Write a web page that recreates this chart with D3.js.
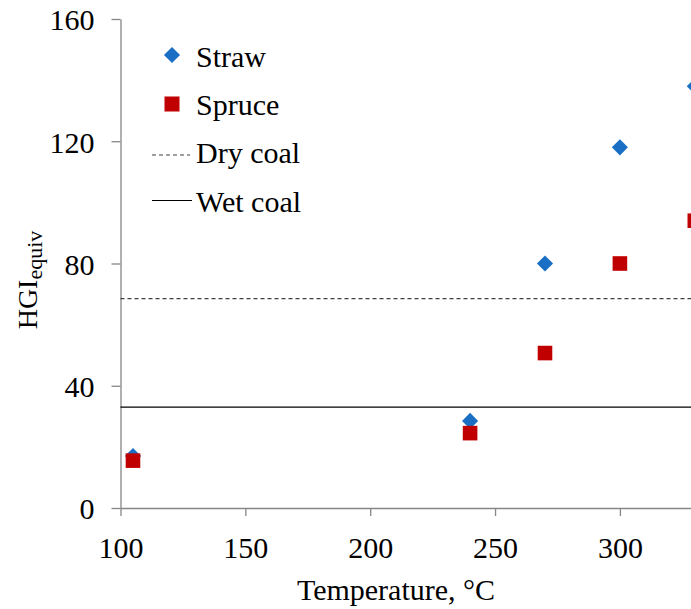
<!DOCTYPE html>
<html>
<head>
<meta charset="utf-8">
<script src="https://cdn.jsdelivr.net/npm/d3@7"></script>
<style>
  html, body { margin: 0; padding: 0; background: #fff; }
  svg { display: block; }
  text { font-family: "Liberation Serif", "Times New Roman", serif; fill: #000; }
</style>
</head>
<body>
<svg id="chart" width="691" height="609"></svg>
<script>
// Torrefaction temperature vs. equivalent Hardgrove grindability index
const temperatures = [105, 240, 270, 300, 330];
const strawHGI = [17, 28.5, 80, 118, 138];
const spruceHGI = [15.5, 24.5, 50.7, 80, 94];
const dryCoalHGI = 68.5;
const wetCoalHGI = 33;
const xTicks = [100, 150, 200, 250, 300];
const yTicks = [0, 40, 80, 120, 160];

const svg = d3.select("#chart");
const plotLeft = 120.5, plotTop = 19, plotBottom = 508;

const x = d3.scaleLinear().domain([100, 350]).range([plotLeft, plotLeft + 250 * 2.497]);
const y = d3.scaleLinear().domain([0, 160]).range([plotBottom, plotTop]);

const axisColor = "#868686";
const fontSize = 30;

// Axes
const xAxis = svg.append("g").attr("transform", `translate(0,${plotBottom})`)
  .call(d3.axisBottom(x).tickValues(xTicks).tickSize(8).tickPadding(21).tickSizeOuter(0));
xAxis.select(".domain").attr("stroke", axisColor).attr("stroke-width", 1.3);
xAxis.selectAll(".tick line").attr("stroke", axisColor).attr("stroke-width", 1.3);
xAxis.selectAll(".tick text").attr("font-size", fontSize).attr("font-family", "Liberation Serif").attr("fill", "#000");

const yAxis = svg.append("g").attr("transform", `translate(${plotLeft},0)`)
  .call(d3.axisLeft(y).tickValues(yTicks).tickSize(9).tickPadding(17).tickSizeOuter(0));
yAxis.select(".domain").attr("stroke", axisColor).attr("stroke-width", 1.3);
yAxis.selectAll(".tick line").attr("stroke", axisColor).attr("stroke-width", 1.3);
yAxis.selectAll(".tick text").attr("font-size", fontSize).attr("font-family", "Liberation Serif")
  .attr("fill", "#000").attr("dy", "0.36em");

// Coal reference lines
svg.append("line")
  .attr("x1", x(100)).attr("x2", x(350))
  .attr("y1", y(dryCoalHGI)).attr("y2", y(dryCoalHGI))
  .attr("stroke", "#404040").attr("stroke-width", 1.2).attr("stroke-dasharray", "4,3");
svg.append("line")
  .attr("x1", x(100)).attr("x2", x(350))
  .attr("y1", y(wetCoalHGI)).attr("y2", y(wetCoalHGI))
  .attr("stroke", "#000").attr("stroke-width", 1.2);

const blue = "#1a6fc4", red = "#c00000";
const diamond = d3.symbol().type(d3.symbolSquare).size(130);

// Straw points (diamonds)
svg.append("g").selectAll("path")
  .data(temperatures.map((t, i) => [t, strawHGI[i]]))
  .join("path")
  .attr("d", diamond)
  .attr("transform", d => `translate(${x(d[0])},${y(d[1])}) rotate(45)`)
  .attr("fill", blue);

// Spruce points (squares)
svg.append("g").selectAll("rect")
  .data(temperatures.map((t, i) => [t, spruceHGI[i]]))
  .join("rect")
  .attr("x", d => x(d[0]) - 7.3).attr("y", d => y(d[1]) - 7.3)
  .attr("width", 14.6).attr("height", 14.6)
  .attr("fill", red);

// Legend
const lg = svg.append("g");
lg.append("path").attr("d", diamond).attr("transform", "translate(172,55) rotate(45)").attr("fill", blue);
lg.append("rect").attr("x", 164.5).attr("y", 96.5).attr("width", 15).attr("height", 15).attr("fill", red);
lg.append("line").attr("x1", 152).attr("x2", 190).attr("y1", 155).attr("y2", 155)
  .attr("stroke", "#404040").attr("stroke-width", 1.2).attr("stroke-dasharray", "4,3");
lg.append("line").attr("x1", 152).attr("x2", 192).attr("y1", 200.5).attr("y2", 200.5)
  .attr("stroke", "#000").attr("stroke-width", 1.2);
const legendLabels = ["Straw", "Spruce", "Dry coal", "Wet coal"];
const legendBaselines = [67, 115, 163, 212];
lg.selectAll("text").data(legendLabels).join("text")
  .attr("x", 196).attr("y", (d, i) => legendBaselines[i])
  .attr("font-size", fontSize)
  .text(d => d);

// Axis titles
svg.append("text").attr("x", 396).attr("y", 600).attr("text-anchor", "middle")
  .attr("font-size", fontSize).text("Temperature, °C");

const yt = svg.append("text").attr("transform", "translate(37,280) rotate(-90)")
  .attr("text-anchor", "middle").attr("font-size", 28);
yt.append("tspan").text("HGI");
yt.append("tspan").attr("font-size", 22).attr("dy", 5).text("equiv");
</script>
</body>
</html>
